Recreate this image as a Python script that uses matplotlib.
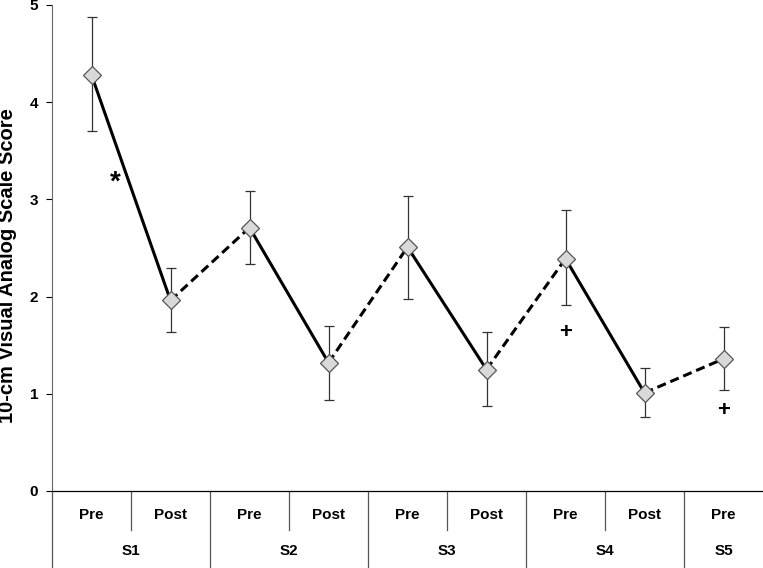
import numpy as np
import matplotlib
matplotlib.use("Agg")
import matplotlib.pyplot as plt

plt.rcParams["font.family"] = ["Liberation Sans", "DejaVu Sans"]

# data
phases = ["Pre", "Post", "Pre", "Post", "Pre", "Post", "Pre", "Post", "Pre"]
sessions = ["S1", "S2", "S3", "S4", "S5"]
vas_mean = [4.28, 1.96, 2.71, 1.32, 2.51, 1.25, 2.39, 1.01, 1.36]
err_upper = [4.88, 2.29, 3.09, 1.70, 3.04, 1.64, 2.89, 1.27, 1.69]
err_lower = [3.70, 1.64, 2.34, 0.94, 1.98, 0.87, 1.91, 0.76, 1.04]
marks = [("*", 0.3, 3.17), ("+", 6.0, 1.63), ("+", 8.0, 0.83)]

x = np.arange(len(vas_mean))
y = np.array(vas_mean)
yerr = [y - np.array(err_lower), np.array(err_upper) - y]

fig = plt.figure(figsize=(7.63, 5.68), dpi=100)
ax = fig.add_axes([52 / 763, 77 / 568, 711 / 763, 486 / 568])

# solid within session, dashed between sessions
for i in range(len(x) - 1):
    ls = "-" if phases[i] == "Pre" else (0, (3, 1.6))
    ax.plot(x[i:i + 2], y[i:i + 2], color="black", lw=2.2, ls=ls, zorder=2)

ax.errorbar(x, y, yerr=yerr, fmt="none", ecolor="#333333", elinewidth=0.9,
            capsize=3.5, capthick=0.9, zorder=1)
ax.plot(x, y, ls="none", marker="D", ms=9.5, mfc="#d9d9d9", mec="#555555",
        mew=0.9, zorder=3)

for sym, xm, ym in marks:
    ax.text(xm, ym, sym, ha="center", va="center", fontsize=20 if sym == "*" else 16,
            fontweight="bold")

ax.set_xlim(-0.5, len(x) - 0.5)
ax.set_ylim(0, 5)
ax.set_yticks(range(6))
ax.tick_params(axis="y", direction="out", length=4, width=0.8, labelsize=11,
               pad=6)
for lbl in ax.get_yticklabels():
    lbl.set_fontweight("bold")
fig.text(8 / 763, 1 - 266 / 568, "10-cm Visual Analog Scale Score",
         rotation=90, ha="center", va="center", fontsize=14.5, fontweight="bold")

ax.spines["top"].set_visible(False)
ax.spines["right"].set_visible(False)
ax.spines["left"].set_color("#666666")
ax.spines["left"].set_bounds(0, 5)
ax.spines["bottom"].set_linewidth(0.9)

# two-level category axis
ax.set_xticks([])
trans = ax.get_xaxis_transform()
for i, ph in enumerate(phases):
    ax.text(x[i], -24 / 486, ph, transform=trans, ha="center", va="center",
            fontsize=11, fontweight="bold")
sess_idx = [0, 0, 1, 1, 2, 2, 3, 3, 4]
for k, s in enumerate(sessions):
    members = [x[i] for i in range(len(x)) if sess_idx[i] == k]
    ax.text(np.mean(members), -60 / 486, s, transform=trans, ha="center",
            va="center", fontsize=11, fontweight="bold")

for i in range(len(x)):
    bx = x[i] - 0.5
    if i > 0 and sess_idx[i] == sess_idx[i - 1]:
        ax.plot([bx, bx], [0, -39 / 486], transform=trans, color="#555555",
                lw=0.9, clip_on=False)
    else:
        ax.plot([bx, bx], [0, -77 / 486], transform=trans, color="#555555",
                lw=0.9, clip_on=False)

fig.savefig("out.png", dpi=100)
